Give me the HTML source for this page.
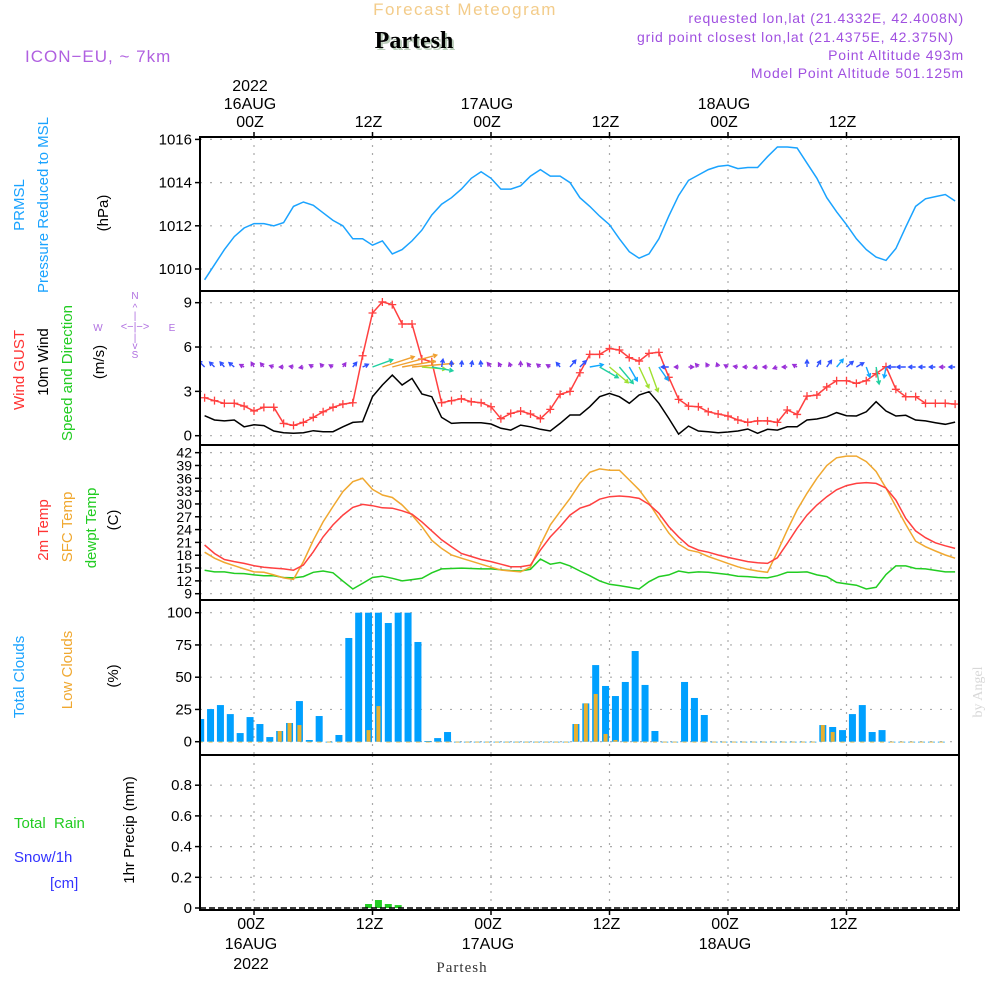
<!DOCTYPE html>
<html><head><meta charset="utf-8"><style>
html,body{margin:0;padding:0;background:#fff;}
svg{display:block;font-family:"Liberation Sans","DejaVu Sans",sans-serif;}
</style></head><body>
<svg id="chart" width="1000" height="1000" viewBox="0 0 1000 1000" xmlns="http://www.w3.org/2000/svg">
<rect width="1000" height="1000" fill="#fff"/>
<text x="465" y="15" font-size="17" fill="#f3cc8a" text-anchor="middle" letter-spacing="1.5">Forecast Meteogram</text>
<text x="414" y="48" font-size="24" font-weight="bold" font-family="Liberation Serif, serif" fill="#000" text-anchor="middle" style="text-shadow:2px 2px 0 #b9cdb9">Partesh</text>
<text x="25" y="62" font-size="17" fill="#b060e0" letter-spacing="1">ICON−EU, ~ 7km</text>
<g font-size="14" fill="#a050e0" text-anchor="end" letter-spacing="0.8">
<text x="964" y="23">requested lon,lat (21.4332E, 42.4008N)</text>
<text x="954" y="42">grid point closest lon,lat (21.4375E, 42.375N)</text>
<text x="964" y="60">Point Altitude 493m</text>
<text x="964" y="78">Model Point Altitude 501.125m</text>
</g>
<g id="grid"></g>
<g id="marks"></g>
<g id="frames"></g>
<g id="labels" font-size="15" fill="#000"></g>
<g font-size="15">
<text transform="translate(24,205) rotate(-90)" text-anchor="middle" fill="#1aa3ff">PRMSL</text>
<text transform="translate(48,205) rotate(-90)" text-anchor="middle" fill="#1aa3ff">Pressure Reduced to MSL</text>
<text transform="translate(108,213) rotate(-90)" text-anchor="middle" fill="#000">(hPa)</text>
<text transform="translate(24,370) rotate(-90)" text-anchor="middle" fill="#ff3333">Wind GUST</text>
<text transform="translate(48,362) rotate(-90)" text-anchor="middle" fill="#000">10m Wind</text>
<text transform="translate(72,373) rotate(-90)" text-anchor="middle" fill="#22cc22">Speed and Direction</text>
<text transform="translate(104,362) rotate(-90)" text-anchor="middle" fill="#000">(m/s)</text>
<text transform="translate(48,530) rotate(-90)" text-anchor="middle" fill="#ff3333">2m Temp</text>
<text transform="translate(72,527) rotate(-90)" text-anchor="middle" fill="#f0a830">SFC Temp</text>
<text transform="translate(96,528) rotate(-90)" text-anchor="middle" fill="#22cc22">dewpt Temp</text>
<text transform="translate(118,520) rotate(-90)" text-anchor="middle" fill="#000">(C)</text>
<text transform="translate(24,677) rotate(-90)" text-anchor="middle" fill="#1aa3ff">Total Clouds</text>
<text transform="translate(72,670) rotate(-90)" text-anchor="middle" fill="#f0a830">Low Clouds</text>
<text transform="translate(118,676) rotate(-90)" text-anchor="middle" fill="#000">(%)</text>
<text x="14" y="828" fill="#22cc22">Total&#160;&#160;Rain</text>
<text x="14" y="862" fill="#3333ff">Snow/1h</text>
<text x="50" y="888" fill="#3333ff">[cm]</text>
<text transform="translate(134,830) rotate(-90)" text-anchor="middle" fill="#000">1hr Precip (mm)</text>
</g>
<g font-size="10" fill="#b070e0" text-anchor="middle">
<text x="135" y="299">N</text><text x="135" y="358">S</text><text x="98" y="331">W</text><text x="172" y="331">E</text>
<text x="135" y="330" font-size="11">&lt;−|−&gt;</text>
<text x="135" y="311">^</text><text x="135" y="319">|</text><text x="135" y="341">|</text><text x="135" y="349">v</text>
</g>
<text transform="translate(982,692) rotate(-90)" text-anchor="middle" font-size="14" font-family="Liberation Serif, serif" fill="#d8d8d8">by Angel</text>
<text x="462" y="972" font-size="15" font-family="Liberation Serif, serif" fill="#333" text-anchor="middle" letter-spacing="1">Partesh</text>
</svg>
<script>
// ---- data (hourly, starting at hour -5 relative to 16AUG 00Z) ----
const pressure=[1009.5,1010.2,1010.9,1011.5,1011.9,1012.1,1012.1,1012.0,1012.15,1012.9,1013.1,1012.95,1012.6,1012.25,1012.0,1011.4,1011.4,1011.1,1011.3,1010.7,1010.9,1011.3,1011.8,1012.5,1013.0,1013.3,1013.7,1014.2,1014.5,1014.2,1013.7,1013.7,1013.85,1014.3,1014.6,1014.3,1014.3,1014.0,1013.3,1012.9,1012.45,1012.05,1011.4,1010.8,1010.5,1010.7,1011.4,1012.45,1013.4,1014.1,1014.35,1014.6,1014.75,1014.8,1014.65,1014.7,1014.7,1015.2,1015.65,1015.65,1015.6,1014.9,1014.2,1013.3,1012.65,1012.05,1011.4,1010.9,1010.55,1010.4,1010.95,1011.95,1012.9,1013.25,1013.35,1013.45,1013.15];
const gust=[2.57,2.37,2.19,2.19,2.0,1.67,1.92,1.92,0.83,0.7,0.9,1.24,1.62,1.92,2.14,2.23,5.41,8.3,9.05,8.87,7.56,7.56,5.19,5.0,2.23,2.37,2.5,2.3,2.23,1.96,1.15,1.51,1.67,1.47,1.15,1.78,2.8,3.0,4.26,5.5,5.5,5.9,5.8,5.28,5.05,5.57,5.64,3.95,2.46,2.0,1.96,1.62,1.47,1.33,1.06,0.9,1.0,1.0,0.9,1.74,1.44,2.68,2.75,3.3,3.72,3.72,3.54,3.72,4.2,4.67,3.14,2.64,2.64,2.19,2.19,2.19,2.14];
const wind=[1.35,1.06,1.0,1.06,0.6,0.74,0.68,0.32,0.2,0.16,0.2,0.34,0.27,0.27,0.6,0.9,0.95,2.64,3.43,4.1,3.43,3.88,2.82,2.64,1.24,0.83,0.88,0.88,0.88,0.79,0.5,0.38,0.72,0.6,0.43,0.32,0.83,1.4,1.4,1.96,2.64,2.86,2.64,2.19,2.75,2.98,2.19,1.17,0.11,0.65,0.32,0.27,0.2,0.25,0.32,0.45,0.16,0.43,0.38,0.6,0.6,1.06,1.13,1.28,1.56,1.35,1.33,1.62,2.3,1.67,1.33,1.38,1.06,1.0,0.88,0.77,0.92];
const windDir=[315,315,320,310,300,330,320,290,270,280,260,300,320,300,35,40,65,70,72,75,80,85,95,100,10,0,5,10,355,320,330,340,0,320,310,300,320,40,45,80,120,130,140,150,155,160,145,270,270,90,320,330,340,300,280,270,260,270,250,270,300,0,30,35,40,50,60,160,170,190,270,270,270,270,270,270,270];
const temp2m=[20.4,18.4,17.0,16.5,16.1,15.55,15.2,15.0,14.8,14.5,15.7,18.8,22.3,25.1,27.4,29.2,29.9,29.6,29.1,29.0,28.4,27.6,25.8,23.7,21.6,20.0,18.4,17.7,17.0,16.5,15.9,15.3,15.3,15.7,19.2,22.3,24.7,27.4,29.0,29.75,31.1,31.7,31.85,31.7,31.3,29.9,27.8,24.7,22.3,20.2,19.2,18.7,18.05,17.5,17.0,16.5,16.25,16.1,17.4,20.8,24.3,27.4,29.75,31.7,33.3,34.3,34.8,35.0,34.8,33.7,30.9,26.6,23.7,22.1,20.9,20.2,19.6];
const tempSfc=[18.7,17.3,16.3,15.55,14.8,14.1,14.0,13.4,12.7,12.35,16.5,21.5,25.8,29.4,32.9,35.2,36.0,33.4,32.1,31.5,29.75,27.4,24.7,21.5,19.6,18.05,17.3,16.6,15.9,15.2,14.55,14.3,14.1,15.3,20.4,25.1,28.2,31.3,34.8,37.4,38.2,37.9,37.9,35.6,33.3,30.2,26.6,23.2,20.6,19.2,18.7,17.7,16.9,16.1,15.3,14.7,14.3,14.0,18.8,23.9,28.6,32.5,36.0,39.0,40.8,41.2,41.2,39.9,37.6,33.7,29.4,25.2,21.3,20.0,19.0,18.05,17.3];
const dewpt=[14.5,14.1,14.1,13.75,13.7,13.4,13.2,13.2,12.8,12.7,13.0,14.0,14.3,13.9,11.95,10.1,11.4,12.8,13.1,12.6,12.0,12.3,12.6,13.9,14.8,14.9,15.0,14.9,14.8,14.8,14.6,14.4,14.3,14.7,17.1,15.9,16.3,15.5,14.3,13.2,12.0,11.2,10.9,10.5,10.1,11.8,13.0,13.4,14.3,13.9,14.1,14.0,13.75,13.5,13.1,13.0,12.8,12.7,13.2,14.0,14.0,14.1,13.4,13.0,11.65,11.3,11.0,10.1,10.5,13.5,15.5,15.5,14.9,14.8,14.45,14.1,14.1];
// cloud/precip bars (hourly, starting at hour -5.4)
const totalClouds=[17.6,25.3,28.4,21.4,6.7,19.1,13.7,3.6,8.3,14.5,31.5,1.3,19.9,0,5.2,80.4,100,100,100,92,100,100,77.3,0.5,2.8,7.5,0,0,0,0,0,0,0,0,0,0,0,0,13.7,29.7,59.4,43.2,35.4,46.3,70.3,44,8.3,0,0,46.3,33.9,20.7,0,0,0,0,0,0,0,0,0,0,0,12.9,11.4,9,21.4,28.4,7.5,9,0,0,0,0,0,0];
const lowClouds=[0,0,0,0,0,0,0,0,8.3,14.5,12.9,0,0,0,0,0,0,9,27.6,0,0,0,0,0,0,0,0,0,0,0,0,0,0,0,0,0,0,0,13.7,29.7,37,6,1.3,0,0,0,0,0,0,0,0,0,0,0,0,0,0,0,0,0,0,0,0,12.9,7.5,0,0,0,0,0,0,0,0,0,0,0];
const precip=[0,0,0,0,0,0,0,0,0,0,0,0,0,0,0,0,0,0.026,0.052,0.026,0.019,0,0,0,0,0,0,0,0,0,0,0,0,0,0,0,0,0,0,0,0,0,0,0,0,0,0,0,0,0,0,0,0,0,0,0,0,0,0,0,0,0,0,0,0,0,0,0,0,0,0,0,0,0,0,0];
const pTicks=[1010,1012,1014,1016];
const wTicks=[0,3,6,9];
const tTicks=[9,12,15,18,21,24,27,30,33,36,39,42];
const cTicks=[0,25,50,75,100];
const rTicks=[0,0.2,0.4,0.6,0.8];
const timeTicks=[0,12,24,36,48,60];
const topTimeLabels=["00Z","12Z","00Z","12Z","00Z","12Z"];
const dayLabels=["16AUG","","17AUG","","18AUG",""];

const NS="http://www.w3.org/2000/svg";
const L=200,R=959;
const P={p:[137,291],w:[291,445],t:[445,600],c:[600,755],r:[755,910]};
const xH=h=>254+9.875*h;
const yP=v=>269-(v-1010)*21.6;
const yW=v=>435.7-v*14.78;
const yT=v=>593.7-(v-9)*4.274;
const yC=v=>741.7-v*1.29;
const yR=v=>908-v*153.5;
function mk(par,tag,attrs){const e=document.createElementNS(NS,tag);for(const k in attrs)e.setAttribute(k,attrs[k]);document.getElementById(par).appendChild(e);return e;}
// grid
const panels=[[P.p,pTicks,yP,'pressure'],[P.w,wTicks,yW,'wind'],[P.t,tTicks,yT,'temp'],[P.c,cTicks,yC,'cloud'],[P.r,rTicks,yR,'precip']];
panels.forEach(([rng,ticks,yf,nm])=>{
  ticks.forEach(t=>{
    const y=yf(t);
    const g=mk('grid','line',{x1:L,x2:R,y1:y,y2:y,stroke:'#aaa','stroke-width':1.2,'stroke-dasharray':'2,8'});
    
    
    const tk=mk('frames','line',{x1:L-5,x2:L,y1:y,y2:y,stroke:'#000','stroke-width':1.5});
    
    
    const tx=mk('labels','text',{x:L-8,y:y+5,'text-anchor':'end','font-size':nm==='temp'?14:15});
    tx.textContent=String(t);
    
    
  });
  timeTicks.forEach(h=>{
    const x=xH(h);
    const v=mk('grid','line',{x1:x,x2:x,y1:rng[0],y2:rng[1],stroke:'#aaa','stroke-width':1.2,'stroke-dasharray':'2,6'});
    
    
  });
  const fr=mk('frames','rect',{x:L,y:rng[0],width:R-L,height:rng[1]-rng[0],fill:'none',stroke:'#000','stroke-width':2});
  
  
});
// time labels
timeTicks.forEach((h,i)=>{
  const x=xH(h);
  const a=mk('labels','text',{x:x-4,y:127,'text-anchor':'middle','font-size':16});a.textContent=topTimeLabels[i];
  
  
  const b=mk('labels','text',{x:x-3,y:929,'text-anchor':'middle','font-size':16});b.textContent=topTimeLabels[i];
  
  
  mk('frames','line',{x1:x,x2:x,y1:132,y2:137,stroke:'#000','stroke-width':1.5});
  mk('frames','line',{x1:x,x2:x,y1:910,y2:915,stroke:'#000','stroke-width':1.5});
  if(dayLabels[i]){
    const d=mk('labels','text',{x:x-4,y:109,'text-anchor':'middle','font-size':16});d.textContent=dayLabels[i];
    
    
    const e=mk('labels','text',{x:x-3,y:949,'text-anchor':'middle','font-size':16});e.textContent=dayLabels[i];
    
    
  }
});
let yr=mk('labels','text',{x:xH(0)-4,y:91,'text-anchor':'middle','font-size':16});yr.textContent='2022';


yr=mk('labels','text',{x:xH(0)-3,y:969,'text-anchor':'middle','font-size':16});yr.textContent='2022';


// clip
const cp=mk('marks','clipPath',{id:'clp'});
const cr=document.createElementNS(NS,'rect');cr.setAttribute('x',L+1);cr.setAttribute('y',130);cr.setAttribute('width',R-L-2);cr.setAttribute('height',790);cp.appendChild(cr);
function line(arr,yf,color,name){
  const pts=arr.map((v,i)=>xH(i-5).toFixed(1)+','+yf(v).toFixed(1)).join(' ');
  const el=mk('marks','polyline',{points:pts,fill:'none',stroke:color,'stroke-width':1.5,'clip-path':'url(#clp)'});
  
  
  return el;
}
// clouds
totalClouds.forEach((v,i)=>{
  const x=xH(i-5.4);
  const b=mk('marks','rect',{x:x-3.5,y:yC(v),width:7,height:Math.max(yC(0)-yC(v),0.8),fill:'#00a0ff','clip-path':'url(#clp)'});
  
  
  const lo=lowClouds[i];
  const c=mk('marks','rect',{x:x-2,y:yC(lo),width:4,height:Math.max(yC(0)-yC(lo),0.8),fill:'#e8b030','clip-path':'url(#clp)'});
  
  
});
precip.forEach((v,i)=>{
  if(v<=0)return;
  const x=xH(i-5.4);
  const b=mk('marks','rect',{x:x-3.5,y:yR(v),width:7,height:yR(0)-yR(v),fill:'#22cc22'});
  
  
});
mk('marks','line',{x1:L,x2:R,y1:yR(0),y2:yR(0),stroke:'#000','stroke-width':1.5,'stroke-dasharray':'6,3'});
line(pressure,yP,'#1aa3ff','pressure-line');
line(wind,yW,'#000','wind-speed-line');
line(gust,yW,'#ff4040','wind-gust-line');
gust.forEach((v,i)=>{
  const x=xH(i-5),y=yW(v);
  const m=mk('marks','path',{d:`M${x-4},${y}H${x+4}M${x},${y-4}V${y+4}`,stroke:'#ff4040','stroke-width':1.3});
  
  
});
// wind arrows
function wcol(s){return s<0.8?'#9a30d8':s<1.5?'#3050ff':s<2.2?'#10a8ff':s<2.7?'#20d0a0':s<3.3?'#a0e030':'#f0a030';}
wind.forEach((s,i)=>{
  const x0=xH(i-5),y0=367;
  const len=4+2.5*s*s;
  const a=windDir[i]*Math.PI/180;
  const x1=x0+len*Math.sin(a),y1=y0-len*Math.cos(a);
  const hx=Math.sin(a),hy=-Math.cos(a);
  const hl=4;
  const l1x=x1-hl*(hx*0.866-hy*0.5),l1y=y1-hl*(hy*0.866+hx*0.5);
  const l2x=x1-hl*(hx*0.866+hy*0.5),l2y=y1-hl*(hy*0.866-hx*0.5);
  const ar=mk('marks','path',{d:`M${x0},${y0}L${x1},${y1}M${l1x},${l1y}L${x1},${y1}L${l2x},${l2y}`,stroke:wcol(s),'stroke-width':1.4,fill:'none','clip-path':'url(#clp)'});
  
  
});
line(dewpt,yT,'#22cc22','dewpoint-line');
line(tempSfc,yT,'#f0a830','sfc-temp-line');
line(temp2m,yT,'#ff4040','temp-2m-line');
</script>
</body></html>
